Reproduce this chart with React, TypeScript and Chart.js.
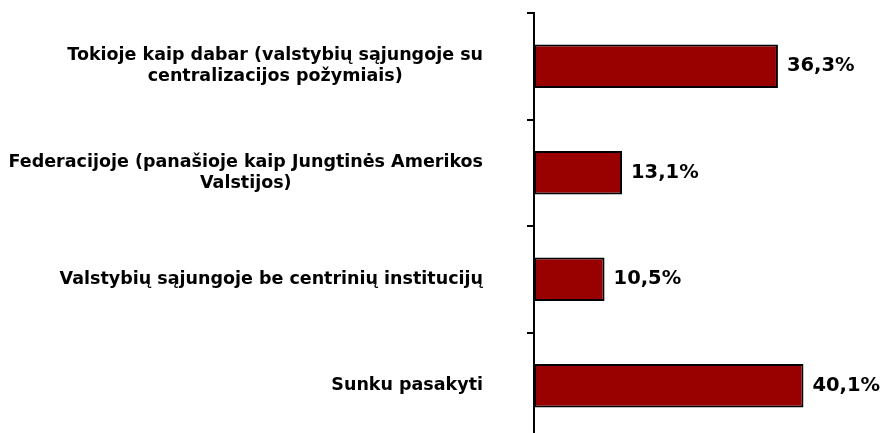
import React, { useEffect, useRef } from "react";
import { Chart, registerables } from "chart.js";

Chart.register(...registerables);

const categories: string[][] = [
  ["Tokioje kaip dabar (valstybių sąjungoje su", "centralizacijos požymiais)"],
  ["Federacijoje (panašioje kaip Jungtinės Amerikos", "Valstijos)"],
  ["Valstybių sąjungoje be centrinių institucijų"],
  ["Sunku pasakyti"],
];
const values: number[] = [36.3, 13.1, 10.5, 40.1];
const valueLabels: string[] = ["36,3%", "13,1%", "10,5%", "40,1%"];

const LABEL_FONT = 'bold 17.5px "DejaVu Sans", Verdana, sans-serif';
const VALUE_FONT = 'bold 19.5px "DejaVu Sans", Verdana, sans-serif';

const labelPlugin = {
  id: "customLabels",
  afterDraw(chart: any) {
    const ctx = chart.ctx;
    const yScale = chart.scales.y;
    const right = chart.chartArea.left - 51;
    const lineH = 21;
    ctx.save();
    ctx.font = LABEL_FONT;
    ctx.fillStyle = "#000";
    ctx.textBaseline = "middle";
    categories.forEach((lines, i) => {
      const cy = yScale.getPixelForValue(i);
      const maxW = Math.max(...lines.map((l) => ctx.measureText(l).width));
      const cx = right - maxW / 2;
      ctx.textAlign = "center";
      lines.forEach((l, j) => {
        ctx.fillText(l, cx, cy + (j - (lines.length - 1) / 2) * lineH);
      });
    });
    ctx.font = VALUE_FONT;
    const meta = chart.getDatasetMeta(0);
    meta.data.forEach((bar: any, i: number) => {
      ctx.textAlign = "left";
      ctx.fillText(valueLabels[i], bar.x + 9, bar.y);
    });
    ctx.restore();
  },
};

export default function App() {
  const ref = useRef<HTMLCanvasElement>(null);
  useEffect(() => {
    if (!ref.current) return;
    const chart = new Chart(ref.current, {
      type: "bar",
      data: {
        labels: categories,
        datasets: [
          {
            data: values,
            backgroundColor: "#990000",
            borderColor: "#000000",
            borderWidth: 2,
            borderSkipped: false,
            categoryPercentage: 1,
            barPercentage: 0.41,
          },
        ],
      },
      options: {
        indexAxis: "y",
        animation: false,
        responsive: false,
        maintainAspectRatio: false,
        layout: { padding: { top: 13, bottom: 21, right: 13, left: 0 } },
        plugins: { legend: { display: false }, tooltip: { enabled: false } },
        scales: {
          x: {
            display: false,
            min: 0,
            max: 50,
          },
          y: {
            offset: true,
            ticks: { display: false },
            grid: {
              offset: true,
              drawOnChartArea: false,
              drawTicks: true,
              tickLength: 7,
              color: "#000",
              lineWidth: 2,
            },
            border: { display: true, color: "#000", width: 2 },
            afterFit: (scale: any) => {
              scale.width = 534;
            },
          },
        },
      },
      plugins: [labelPlugin],
    });
    return () => chart.destroy();
  }, []);
  return (
    <div style={{ position: "fixed", left: 0, top: 0, width: 883, height: 433, overflow: "hidden", background: "#fff" }}>
      <canvas ref={ref} width={883} height={460} style={{ display: "block" }} />
    </div>
  );
}
